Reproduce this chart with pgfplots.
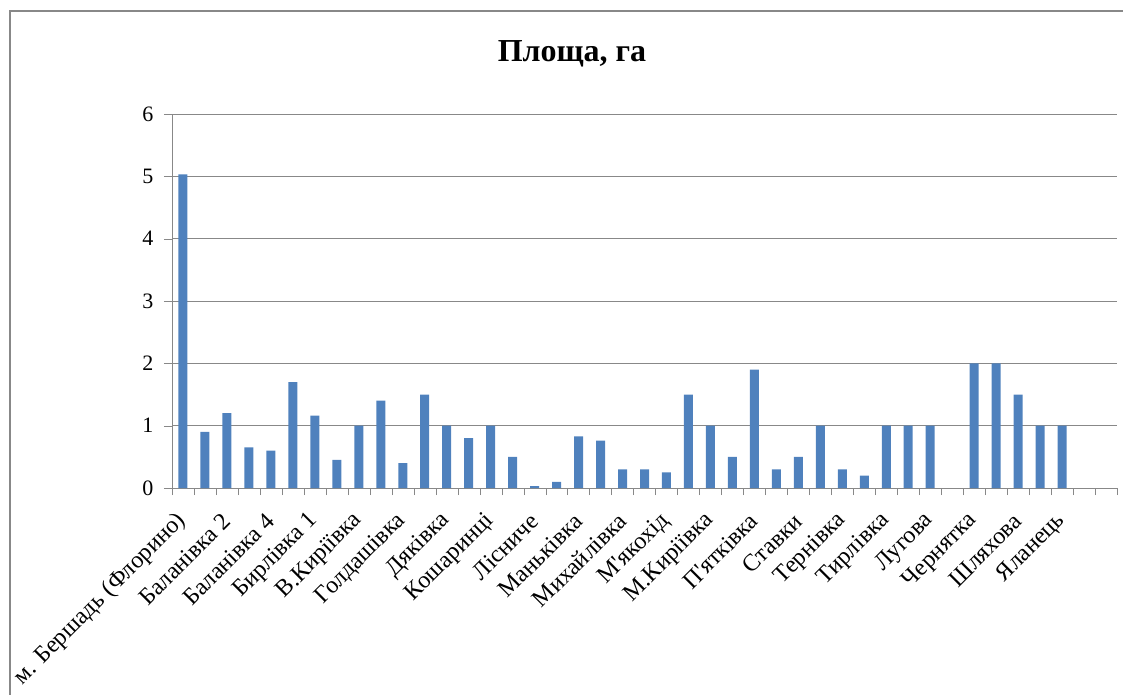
\documentclass[border=0pt]{standalone}
\usepackage{pgfplots}
\pgfplotsset{compat=1.18}
\usepackage{fontspec}
\setmainfont{Liberation Serif}
\newfontfamily\nomap{Liberation Serif}
\newcommand{\ap}{{\nomap '}}
\definecolor{barblue}{HTML}{4F81BD}
\definecolor{gridgray}{HTML}{888888}
\begin{document}
\begin{tikzpicture}[x=1pt,y=1pt]
\begin{scope}
\clip (0,0) rectangle (1123,694);
\draw[gridgray, line width=2pt] (10,-30) -- (10,683) -- (1160,683);
\node[font=\fontsize{32}{36}\selectfont\bfseries, anchor=base] at (572,632) {Площа, га};
\begin{axis}[
  at={(172pt,206pt)}, anchor=south west,
  scale only axis, width=945pt, height=374pt,
  xmin=-0.5, xmax=42.5, ymin=0, ymax=6,
  ytick={0,1,...,6},
  xtick={0,2,...,40},
  xticklabels={м. Бершадь (Флорино),Баланівка 2,Баланівка 4,Бирлівка 1,В.Киріївка,Голдашівка,Дяківка,Кошаринці,Лісниче,Маньківка,Михайлівка,М\ap якохід,М.Киріївка,П\ap ятківка,Ставки,Тернівка,Тирлівка,Лугова,Чернятка,Шляхова,Яланець},
  minor xtick={-0.5,0.5,...,42.5},
  major x tick style={draw=none},
  minor x tick style={gridgray},
  minor tick length=7pt,
  major tick length=8pt,
  tick align=outside,
  ytick style={gridgray},
  ymajorgrids, grid style={gridgray, line width=0.8pt},
  axis x line*=bottom, axis y line*=left,
  axis line style={gridgray, line width=0.8pt},
  /pgf/number format/assume math mode=true,
  yticklabel style={font=\fontsize{22}{24}\selectfont, xshift=-7pt},
  xticklabel style={font=\fontsize{24}{26}\selectfont, xshift=2pt, yshift=-19pt, rotate=45, anchor=east},
  ybar, bar width=9pt,
]
\addplot[fill=barblue, draw=none] coordinates {
(0,5.03) (1,0.9) (2,1.2) (3,0.65) (4,0.6) (5,1.7) (6,1.16) (7,0.45) (8,1.0) (9,1.4)
(10,0.4) (11,1.5) (12,1.0) (13,0.8) (14,1.0) (15,0.5) (16,0.03) (17,0.1) (18,0.83) (19,0.76)
(20,0.3) (21,0.3) (22,0.25) (23,1.5) (24,1.0) (25,0.5) (26,1.9) (27,0.3) (28,0.5) (29,1.0)
(30,0.3) (31,0.2) (32,1.0) (33,1.0) (34,1.0) (36,2.0) (37,2.0) (38,1.5) (39,1.0) (40,1.0)
};
\end{axis}
\end{scope}
\pgfresetboundingbox
\useasboundingbox (0,0) rectangle (1123,694);
\end{tikzpicture}
\end{document}
